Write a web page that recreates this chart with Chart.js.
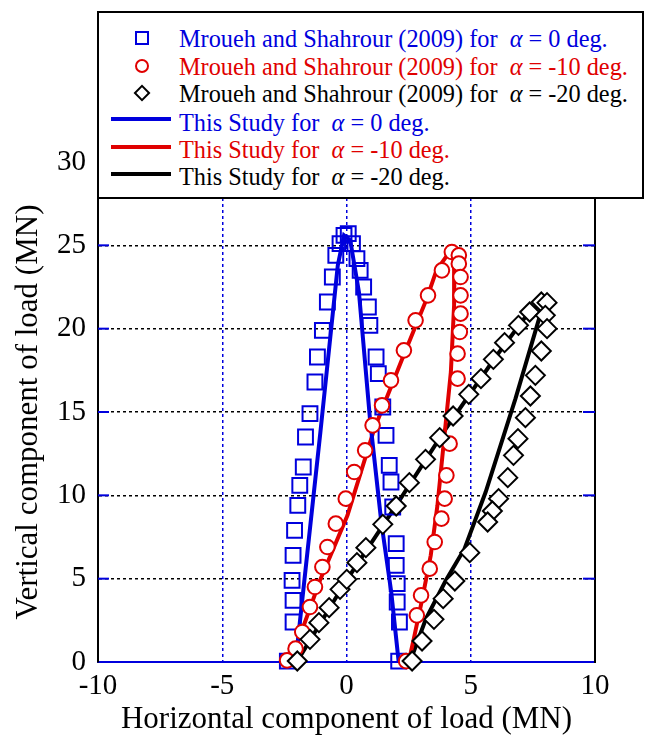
<!DOCTYPE html>
<html>
<head>
<meta charset="utf-8">
<script src="https://cdn.jsdelivr.net/npm/chart.js@4"></script>
<style>
html,body{margin:0;padding:0;background:#fff;}
#wrap{position:relative;width:645px;height:739px;}
#legend{position:absolute;left:97px;top:11px;width:547px;height:188px;border:2px solid #000;background:#fff;box-sizing:border-box;font-family:"Liberation Serif","Times New Roman",serif;font-size:24.3px;}
.row{position:absolute;left:80px;height:28px;line-height:28px;white-space:nowrap;}
.row i{font-style:italic;}
.mk{position:absolute;box-sizing:border-box;}
.ln{position:absolute;left:12px;width:60px;height:4px;}
</style>
</head>
<body>
<div id="wrap">
<canvas id="c" width="645" height="739"></canvas>
<div id="legend">
  <div class="mk" style="left:36px;top:18px;width:14px;height:14px;border:2px solid #0000dd;"></div>
  <div class="row" style="top:12px;color:#0000dd;">Mroueh and Shahrour (2009) for&nbsp;&nbsp;<i>α</i> = 0 deg.</div>
  <div class="mk" style="left:36px;top:46px;width:14px;height:14px;border:2px solid #e00000;border-radius:50%;"></div>
  <div class="row" style="top:40px;color:#e00000;">Mroueh and Shahrour (2009) for&nbsp;&nbsp;<i>α</i> = -10 deg.</div>
  <div class="mk" style="left:37px;top:74px;width:12px;height:12px;border:2px solid #000;transform:rotate(45deg);"></div>
  <div class="row" style="top:67px;color:#000;">Mroueh and Shahrour (2009) for&nbsp;&nbsp;<i>α</i> = -20 deg.</div>
  <div class="ln" style="top:104px;background:#0000dd;"></div>
  <div class="row" style="top:96px;color:#0000dd;">This Study for&nbsp;&nbsp;<i>α</i> = 0 deg.</div>
  <div class="ln" style="top:132px;background:#e00000;"></div>
  <div class="row" style="top:123px;color:#e00000;">This Study for&nbsp;&nbsp;<i>α</i> = -10 deg.</div>
  <div class="ln" style="top:159px;background:#000;"></div>
  <div class="row" style="top:150px;color:#000;">This Study for&nbsp;&nbsp;<i>α</i> = -20 deg.</div>
</div>
</div>
<script>
// ---- Data (MN) ----
const xTicks = [-10, -5, 0, 5, 10];
const yTicks = [0, 5, 10, 15, 20, 25, 30];

// Mroueh and Shahrour (2009), alpha = 0 deg (squares)
const sq0X = [-2.38,-2.15,-2.15,-2.19,-2.15,-2.09,-1.96,-1.88,-1.74,-1.65,-1.47,-1.27,-1.17,-0.97,-0.77,-0.57,-0.43,-0.26,-0.10,0.07,
              0.24,0.42,0.55,0.69,0.88,0.94,1.19,1.28,1.46,1.59,1.72,1.79,1.86,2.00,2.00,2.04,2.04,2.13,2.10];
const sq0Y = [0.05,2.4,3.7,4.9,6.4,7.9,9.4,10.6,11.7,13.5,14.9,16.8,18.3,19.9,21.6,23.1,24.4,25.1,25.6,25.7,
              25.1,24.2,23.5,22.5,21.3,20.2,18.3,17.3,15.3,13.6,11.8,10.8,9.3,7.1,5.8,4.7,3.6,2.4,0.05];

// alpha = -10 deg (circles)
const ci10X = [-2.39,-2.05,-1.78,-1.47,-1.27,-0.97,-0.77,-0.43,-0.03,0.31,0.75,1.05,1.43,1.79,2.31,2.78,3.28,3.84,4.24,4.52,
               4.52,4.59,4.59,4.59,4.56,4.47,4.47,4.15,4.02,3.95,3.82,3.55,3.35,3.00,2.83,2.40];
const ci10Y = [0.1,0.8,1.8,3.3,4.5,5.7,6.9,8.3,9.8,11.4,12.7,14.2,15.4,16.9,18.7,20.5,22.0,23.5,24.6,24.4,
               23.9,23.1,22.0,20.9,19.8,18.5,17.0,13.1,11.2,9.8,8.6,7.2,5.6,4.0,2.8,0.05];

// alpha = -20 deg (diamonds)
const di20X = [-1.98,-1.47,-1.11,-0.70,-0.26,0.01,0.42,0.78,1.46,2.00,2.53,3.18,3.75,4.29,4.92,5.41,5.91,6.36,6.92,7.37,7.84,8.07,
               8.00,8.07,7.84,7.60,7.40,7.20,6.90,6.72,6.49,6.12,5.87,5.68,4.96,4.36,3.89,3.52,3.04,2.64];
const di20Y = [0.06,1.36,2.36,3.26,4.36,4.96,5.96,6.86,8.26,9.36,10.76,12.16,13.46,14.76,16.06,17.0,18.16,19.16,20.2,21.0,21.6,21.56,
               20.8,20.0,18.66,17.2,15.96,14.66,13.4,12.4,11.06,9.8,9.06,8.4,6.56,4.86,3.8,2.56,1.26,0.06];

// This Study
const ln0X = [-2.05,-1.05,-0.35,-0.10,0.15,0.50,0.95,1.40,1.80,2.10];
const ln0Y = [0,13.8,23.8,25.6,25.3,22.2,14.5,8.4,4.2,0];
const ln10X = [-2.25,-1.04,0.04,1.12,2.22,3.23,3.62,4.10,4.35,4.33,4.20,3.93,3.66,3.39,3.05,2.71,2.50];
const ln10Y = [0,5.0,8.8,14.0,18.1,21.8,23.5,24.5,24.3,21.4,17.4,13.4,9.4,6.4,3.8,1.4,0];
const ln20X = [-2.0,0.0,2.0,4.0,6.0,7.3,7.9,7.75,6.8,5.6,4.75,4.0,3.2,2.55];
const ln20Y = [0,4.9,9.4,14.0,18.3,20.9,21.6,20.6,15.8,10.2,6.8,4.9,2.6,0];

const BLUE = '#0000dd', RED = '#e00000', BLACK = '#000000';
const CLEAR = 'rgba(0,0,0,0)';
function pts(xs, ys) { return xs.map((x, i) => ({ x: x, y: ys[i] })); }

const edgePlugin = {
  id: 'edges',
  afterDraw(chart) {
    const { ctx, chartArea: a, scales } = chart;
    const y = scales.y;
    ctx.save();
    ctx.strokeStyle = BLACK; ctx.lineWidth = 2;
    ctx.beginPath(); ctx.moveTo(a.right, a.top); ctx.lineTo(a.right, a.bottom + 1); ctx.stroke();
    ctx.strokeStyle = BLUE; ctx.lineWidth = 2;
    yTicks.forEach(v => {
      if (v > 0 && v < 30) {
        const py = y.getPixelForValue(v);
        ctx.beginPath(); ctx.moveTo(a.left, py); ctx.lineTo(a.left + 11, py); ctx.stroke();
        ctx.beginPath(); ctx.moveTo(a.right - 12, py); ctx.lineTo(a.right, py); ctx.stroke();
      }
    });
    ctx.restore();
  }
};

const serif = '"Liberation Serif", "Times New Roman", serif';

new Chart(document.getElementById('c'), {
  type: 'scatter',
  data: {
    datasets: [
      { label: 'Mroueh and Shahrour (2009) for α = -20 deg.', data: pts(di20X, di20Y), pointStyle: 'rectRot', pointRadius: 9.5,
        pointBorderColor: BLACK, pointBackgroundColor: '#fff', pointBorderWidth: 2, showLine: false, order: 0, clip: false },
      { label: 'Mroueh and Shahrour (2009) for α = -10 deg.', data: pts(ci10X, ci10Y), pointStyle: 'circle', pointRadius: 7.3,
        pointBorderColor: RED, pointBackgroundColor: '#fff', pointBorderWidth: 2, showLine: false, order: 1, clip: false },
      { label: 'Mroueh and Shahrour (2009) for α = 0 deg.', data: pts(sq0X, sq0Y), pointStyle: 'rect', pointRadius: 10.5,
        pointBorderColor: BLUE, pointBackgroundColor: CLEAR, pointBorderWidth: 2, showLine: false, order: 2, clip: false },
      { label: 'This Study for α = 0 deg.', data: pts(ln0X, ln0Y), showLine: true, pointRadius: 0, borderColor: BLUE,
        borderWidth: 4, tension: 0, order: 3, clip: false },
      { label: 'This Study for α = -10 deg.', data: pts(ln10X, ln10Y), showLine: true, pointRadius: 0, borderColor: RED,
        borderWidth: 4, tension: 0, order: 3, clip: false },
      { label: 'This Study for α = -20 deg.', data: pts(ln20X, ln20Y), showLine: true, pointRadius: 0, borderColor: BLACK,
        borderWidth: 4, tension: 0, order: 3, clip: false }
    ]
  },
  options: {
    responsive: false,
    animation: false,
    events: [],
    layout: { padding: { left: 0, right: 50, top: 162, bottom: 0 } },
    plugins: { legend: { display: false }, tooltip: { enabled: false } },
    scales: {
      x: {
        type: 'linear', min: -10, max: 10,
        afterBuildTicks: s => { s.ticks = xTicks.map(v => ({ value: v })); },
        afterFit: s => { s.height = 77; },
        ticks: { font: { family: serif, size: 29 }, color: '#000', padding: 7, maxRotation: 0 },
        grid: { color: c => (c.tick && Math.abs(c.tick.value) < 10) ? BLUE : CLEAR, lineWidth: 1.5, drawTicks: false },
        border: { display: true, color: BLUE, width: 2, dash: [3, 3] },
        title: { display: true, text: 'Horizontal component of load (MN)', font: { family: serif, size: 31 }, color: '#000', padding: { top: 0, bottom: 1 } }
      },
      y: {
        type: 'linear', min: 0, max: 30,
        afterBuildTicks: s => { s.ticks = yTicks.map(v => ({ value: v })); },
        afterFit: s => { s.width = 98; },
        ticks: { font: { family: serif, size: 29 }, color: '#000', padding: 12 },
        grid: { color: c => (c.tick && c.tick.value > 0 && c.tick.value < 30) ? BLACK : CLEAR, lineWidth: 1.5, drawTicks: false },
        border: { display: true, color: BLACK, width: 2, dash: [3, 3] },
        title: { display: true, text: 'Vertical component of load (MN)', font: { family: serif, size: 31 }, color: '#000', padding: { top: 10, bottom: 0 } }
      }
    }
  },
  plugins: [edgePlugin]
});
</script>
</body>
</html>
